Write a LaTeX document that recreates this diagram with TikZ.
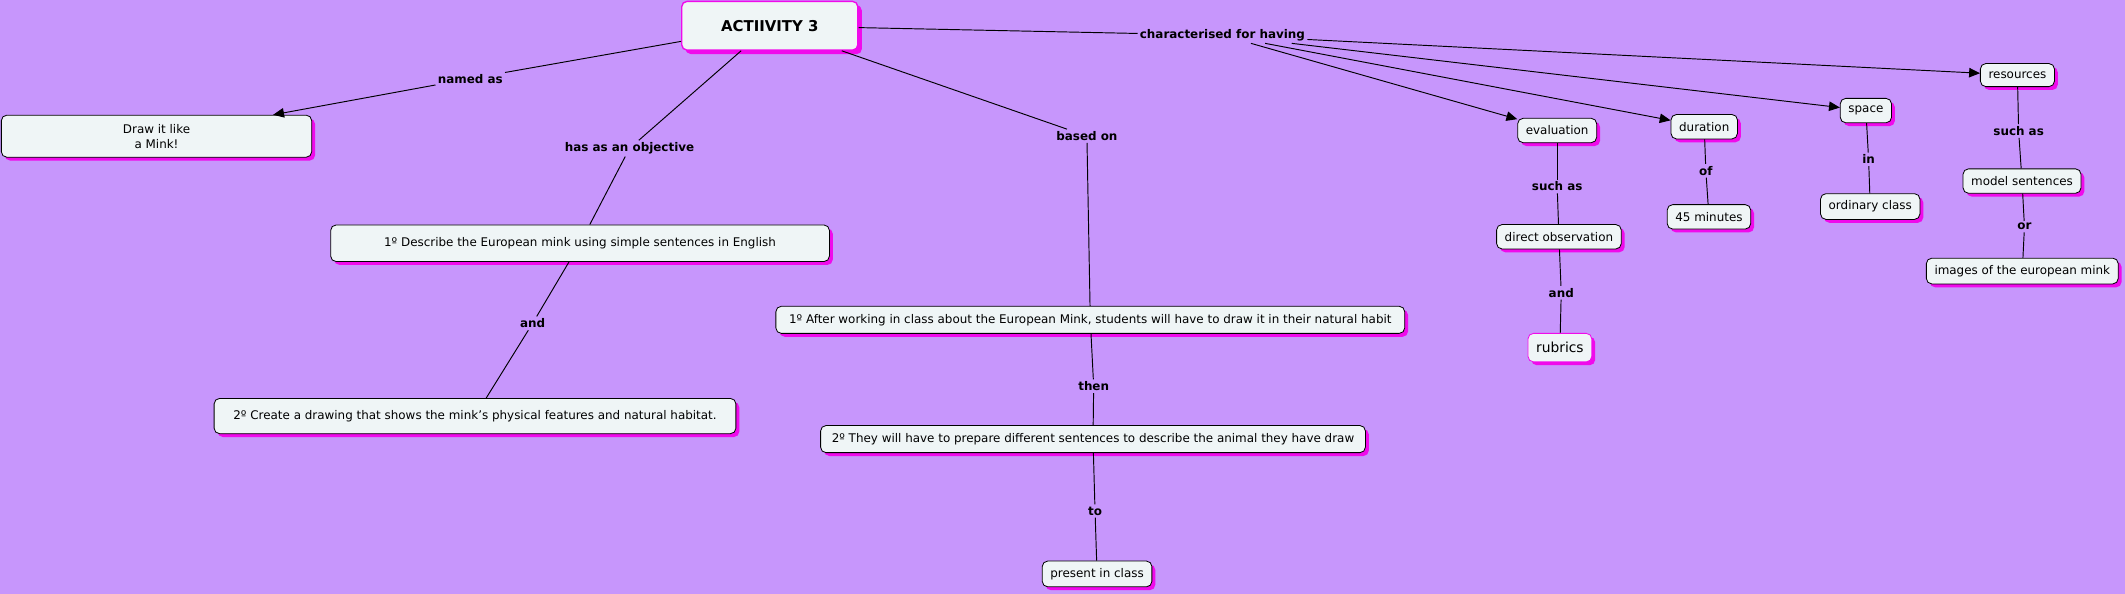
\documentclass[tikz,border=0pt]{standalone}
\usepackage{fontspec}
\setmainfont{DejaVu Sans}
\usetikzlibrary{arrows.meta, shadows}
\definecolor{mapbg}{RGB}{199,150,252}
\definecolor{conceptfill}{RGB}{239,245,246}
\definecolor{mapshadow}{RGB}{240,10,235}

\begin{document}
\begin{tikzpicture}[x=1pt, y=-1pt,
    concept/.style={draw, fill=conceptfill, rounded corners=4pt, line width=0.6pt,
      minimum height=18pt, inner xsep=6pt, inner ysep=2pt,
      font=\fontsize{8.8}{11.2}\selectfont,
      drop shadow={shadow xshift=2.5pt, shadow yshift=-2.5pt, fill=mapshadow, opacity=1}},
    pinkconcept/.style={concept, draw=mapshadow},
    link/.style={font=\fontsize{8.8}{11}\selectfont\bfseries, inner sep=1.5pt},
    conn/.style={line width=0.7pt},
    arr/.style={conn, -{Triangle[length=8pt, width=7pt]}},
  ]
    \useasboundingbox (0,0) rectangle (1568,438.3);
    \fill[mapbg] (0,0) rectangle (1568,438.3);

    % Main concept
    \node[pinkconcept, line width=1pt, minimum width=130pt, minimum height=36pt,
      font=\fontsize{11}{13}\selectfont\bfseries,
      drop shadow={shadow xshift=3pt, shadow yshift=-3pt, fill=mapshadow, opacity=1}]
      (act) at (568,19) {ACTIIVITY 3};

    % Name and objectives
    \node[concept, minimum width=229pt, minimum height=31pt, align=center] (drawit) at (115.5,100.5) {Draw it like\\a Mink!};
    \node[concept, minimum width=368pt, minimum height=27pt] (describe) at (428,179.5) {1º Describe the European mink using simple sentences in English};
    \node[concept, minimum width=385pt, minimum height=26pt] (create) at (350.5,307) {2º Create a drawing that shows the mink’s physical features and natural habitat.};

    % Steps
    \node[concept, minimum width=464pt, minimum height=20pt] (after) at (804.5,236) {1º After working in class about the European Mink, students will have to draw it in their natural habit};
    \node[concept, minimum width=402pt, minimum height=20pt] (they) at (806.5,324) {2º They will have to prepare different sentences to describe the animal they have draw};
    \node[concept, minimum height=19pt] (present) at (809.5,423.5) {present in class};

    % Characteristics
    \node[concept] (evaluation) at (1149,96.3) {evaluation};
    \node[concept] (duration) at (1257.5,93.5) {duration};
    \node[concept] (space) at (1376.8,81.6) {space};
    \node[concept, minimum height=17pt] (resources) at (1488.6,55.4) {resources};
    \node[concept] (direct) at (1150.3,174.7) {direct observation};
    \node[pinkconcept, minimum height=21pt, font=\fontsize{10.2}{12}\selectfont] (rubrics) at (1151,256.5) {rubrics};
    \node[concept] (minutes) at (1261,160) {45 minutes};
    \node[concept, minimum height=19pt] (ordinary) at (1380,152.4) {ordinary class};
    \node[concept] (model) at (1492,133.6) {model sentences};
    \node[concept, minimum height=19pt] (images) at (1492.2,200) {images of the european mink};

    % Linking phrases
    \node[link] (lnamed) at (347,58) {named as};
    \node[link] (lobj) at (464.5,109.5) {has as an objective};
    \node[link] (lbased) at (802,100.4) {based on};
    \node[link] (lhaving) at (902,26) {characterised for having};
    \node[link] (land1) at (393,238.6) {and};
    \node[link] (lthen) at (807,285) {then};
    \node[link] (lto) at (808,377) {to};
    \node[link] (lsuch1) at (1149,137.6) {such as};
    \node[link] (land2) at (1152,216) {and};
    \node[link] (lof) at (1258.7,126) {of};
    \node[link] (lin) at (1378.8,117.6) {in};
    \node[link] (lsuch2) at (1489.5,96.7) {such as};
    \node[link] (lor) at (1493.8,167.3) {or};

    % Plain connectors
    \foreach \a/\b in {act/lnamed, act/lobj, lobj/describe, describe/land1, land1/create,
        act/lbased, lbased/after, after/lthen, lthen/they, they/lto, lto/present,
        act/lhaving, evaluation/lsuch1, lsuch1/direct, direct/land2, land2/rubrics,
        duration/lof, lof/minutes, space/lin, lin/ordinary,
        resources/lsuch2, lsuch2/model, model/lor, lor/images}
      \draw[conn] (\a) -- (\b);

    % Arrows
    \draw[arr] (lnamed) -- (drawit);
    \foreach \b in {evaluation, duration, space, resources}
      \draw[arr] (lhaving) -- (\b);
\end{tikzpicture}
\end{document}
